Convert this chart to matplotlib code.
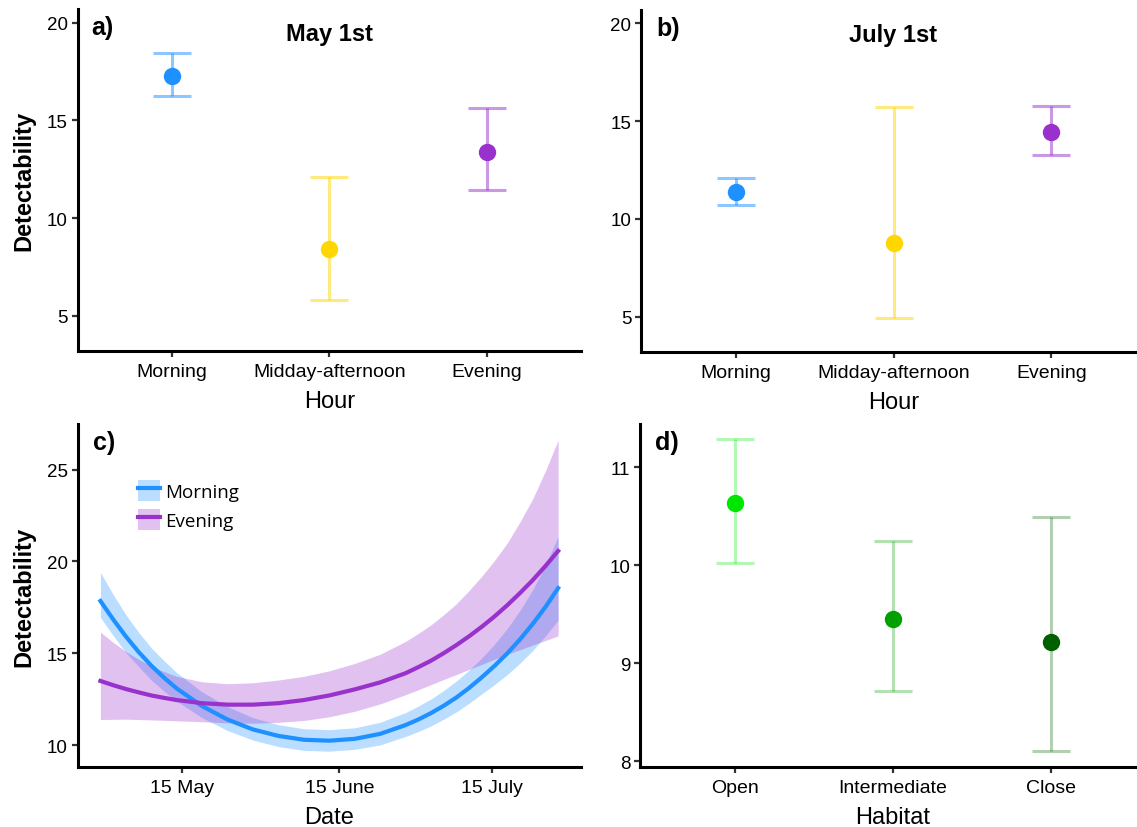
import numpy as np
import matplotlib
matplotlib.use('Agg')
import matplotlib.pyplot as plt
from matplotlib.patches import Patch
from matplotlib.lines import Line2D

plt.rcParams['font.family'] = ['Liberation Sans', 'DejaVu Sans']

# --- data -----------------------------------------------------------
hours = ['Morning', 'Midday-afternoon', 'Evening']
hour_colors = ['#1E90FF', '#FFD700', '#9932CC']

may_mean = [17.28, 8.40, 13.38]
may_lo = [16.23, 5.83, 11.43]
may_hi = [18.43, 12.08, 15.66]

july_mean = [11.38, 8.78, 14.47]
july_lo = [10.73, 4.91, 13.25]
july_hi = [12.08, 15.71, 15.78]

habitats = ['Open', 'Intermediate', 'Close']
habitat_colors = ['#00E600', '#00A000', '#006000']
hab_mean = [10.63, 9.45, 9.22]
hab_lo = [10.02, 8.72, 8.10]
hab_hi = [11.29, 10.25, 10.49]

dates = np.array(['2016-04-29T00', '2016-05-01T12', '2016-05-04T00', '2016-05-06T12',
                  '2016-05-09T00', '2016-05-11T12', '2016-05-14T00', '2016-05-19T00',
                  '2016-05-24T00', '2016-05-29T00', '2016-06-03T00', '2016-06-08T00',
                  '2016-06-13T00', '2016-06-18T00', '2016-06-23T00', '2016-06-28T00',
                  '2016-06-30T12', '2016-07-03T00', '2016-07-05T12', '2016-07-08T00',
                  '2016-07-10T12', '2016-07-13T00', '2016-07-15T12', '2016-07-18T00',
                  '2016-07-20T12', '2016-07-23T00', '2016-07-25T12', '2016-07-28T00'],
                 dtype='datetime64[h]')
morning_mean = [17.85, 16.85, 15.92, 15.08, 14.33, 13.68, 13.09, 12.13, 11.40, 10.86,
                10.51, 10.30, 10.25, 10.35, 10.62, 11.10, 11.40, 11.75, 12.15, 12.60,
                13.12, 13.70, 14.32, 15.00, 15.76, 16.60, 17.52, 18.55]
morning_hi = [19.40, 18.20, 17.10, 16.15, 15.30, 14.60, 13.95, 12.90, 12.10, 11.50,
              11.12, 10.90, 10.85, 10.95, 11.25, 11.78, 12.13, 12.52, 12.98, 13.50,
              14.09, 14.75, 15.50, 16.35, 17.34, 18.45, 19.80, 21.35]
morning_lo = [16.95, 15.97, 15.05, 14.28, 13.55, 12.95, 12.40, 11.50, 10.80, 10.28,
              9.93, 9.72, 9.68, 9.78, 10.02, 10.48, 10.75, 11.05, 11.42, 11.82,
              12.29, 12.80, 13.30, 13.85, 14.47, 15.15, 15.95, 16.80]
evening_mean = [13.50, 13.27, 13.06, 12.88, 12.71, 12.58, 12.46, 12.29, 12.21, 12.21,
                12.29, 12.46, 12.71, 13.04, 13.42, 13.92, 14.25, 14.60, 15.01, 15.45,
                15.93, 16.45, 17.01, 17.62, 18.28, 18.98, 19.75, 20.57]
evening_hi = [16.15, 15.60, 15.10, 14.68, 14.30, 14.01, 13.75, 13.45, 13.35, 13.40,
              13.55, 13.75, 14.05, 14.45, 14.95, 15.65, 16.08, 16.55, 17.10, 17.70,
              18.42, 19.20, 20.05, 21.00, 22.15, 23.40, 24.92, 26.60]
evening_lo = [11.40, 11.41, 11.42, 11.40, 11.38, 11.36, 11.33, 11.28, 11.22, 11.20,
              11.25, 11.35, 11.55, 11.85, 12.25, 12.75, 13.02, 13.30, 13.58, 13.85,
              14.13, 14.40, 14.68, 14.95, 15.20, 15.45, 15.70, 15.95]

date_ticks = np.array(['2016-05-15', '2016-06-15', '2016-07-15'], dtype='datetime64[h]')
date_labels = ['15 May', '15 June', '15 July']


def style(ax):
    for s in ['top', 'right']:
        ax.spines[s].set_visible(False)
    for s in ['left', 'bottom']:
        ax.spines[s].set_linewidth(2.2)
        ax.spines[s].set_color('black')
    ax.tick_params(axis='both', length=4, width=1.6, color='#333333', labelsize=13.5, pad=3)
    ax.tick_params(axis='x', labelsize=14, pad=5)


def dotplot(ax, mean, lo, hi, colors, alpha):
    x = np.arange(1, len(mean) + 1)
    for i in range(len(mean)):
        ax.errorbar(x[i], mean[i], yerr=[[mean[i] - lo[i]], [hi[i] - mean[i]]],
                    fmt='none', ecolor=colors[i], alpha=alpha, elinewidth=2.2,
                    capsize=14, capthick=2.2)
        ax.plot(x[i], mean[i], 'o', color=colors[i], markersize=11.5, zorder=3)


fig = plt.figure(figsize=(11.37, 8.28), dpi=100)

# a) May 1st
ax = fig.add_axes([0.0682, 0.5749, 0.4428, 0.4130])
dotplot(ax, may_mean, may_lo, may_hi, hour_colors, 0.5)
style(ax)
ax.set_xlim(0.4, 3.6)
ax.set_ylim(3.2, 20.7)
ax.set_yticks([5, 10, 15, 20])
ax.set_xticks([1, 2, 3])
ax.set_xticklabels(hours)
ax.set_xlabel('Hour', fontsize=17, labelpad=7)
ax.set_ylabel('Detectability', fontsize=17, fontweight='bold', labelpad=8)
ax.text(0.5, 0.928, 'May 1st', transform=ax.transAxes, ha='center', va='center',
        fontsize=17, fontweight='bold')
ax.text(0.027, 0.947, 'a)', transform=ax.transAxes, ha='left', va='center',
        fontsize=18, fontweight='bold')

# b) July 1st
ax = fig.add_axes([0.5638, 0.5740, 0.4441, 0.4130])
dotplot(ax, july_mean, july_lo, july_hi, hour_colors, 0.5)
style(ax)
ax.set_xlim(0.4, 3.6)
ax.set_ylim(3.2, 20.7)
ax.set_yticks([5, 10, 15, 20])
ax.set_xticks([1, 2, 3])
ax.set_xticklabels(hours)
ax.set_xlabel('Hour', fontsize=17, labelpad=7)
ax.text(0.5, 0.928, 'July 1st', transform=ax.transAxes, ha='center', va='center',
        fontsize=17, fontweight='bold')
ax.text(0.03, 0.947, 'b)', transform=ax.transAxes, ha='left', va='center',
        fontsize=18, fontweight='bold')

# c) date effect
ax = fig.add_axes([0.0682, 0.0725, 0.4428, 0.4143])
ax.fill_between(dates, morning_lo, morning_hi, color='#1E90FF', alpha=0.3, lw=0)
ax.plot(dates, morning_mean, color='#1E90FF', lw=3)
ax.fill_between(dates, evening_lo, evening_hi, color='#9932CC', alpha=0.3, lw=0)
ax.plot(dates, evening_mean, color='#9932CC', lw=3)
style(ax)
ax.set_xlim(np.datetime64('2016-04-24T12'), np.datetime64('2016-08-01T12'))
ax.set_ylim(8.82, 27.48)
ax.set_yticks([10, 15, 20, 25])
ax.set_xticks(date_ticks)
ax.set_xticklabels(date_labels)
ax.set_xlabel('Date', fontsize=17, labelpad=7)
ax.set_ylabel('Detectability', fontsize=17, fontweight='bold', labelpad=8)
ax.text(0.031, 0.947, 'c)', transform=ax.transAxes, ha='left', va='center',
        fontsize=18, fontweight='bold')
handles = [(Patch(facecolor='#1E90FF', alpha=0.3, lw=0), Line2D([], [], color='#1E90FF', lw=3)),
           (Patch(facecolor='#9932CC', alpha=0.3, lw=0), Line2D([], [], color='#9932CC', lw=3))]
ax.legend(handles, ['Morning', 'Evening'], loc='upper left', bbox_to_anchor=(0.12, 0.836),
          frameon=False, prop={'family': 'Open Sans', 'size': 13.5}, handlelength=1.2,
          handleheight=1.3, handletextpad=0.25, labelspacing=0.45, borderpad=0,
          borderaxespad=0)

# d) habitat
ax = fig.add_axes([0.5629, 0.0725, 0.4450, 0.4143])
dotplot(ax, hab_mean, hab_lo, hab_hi, habitat_colors, 0.3)
style(ax)
ax.set_xlim(0.4, 3.6)
ax.set_ylim(7.94, 11.44)
ax.set_yticks([8, 9, 10, 11])
ax.set_xticks([1, 2, 3])
ax.set_xticklabels(habitats)
ax.set_xlabel('Habitat', fontsize=17, labelpad=7)
ax.text(0.03, 0.947, 'd)', transform=ax.transAxes, ha='left', va='center',
        fontsize=18, fontweight='bold')

plt.savefig('out.png', dpi=100)
